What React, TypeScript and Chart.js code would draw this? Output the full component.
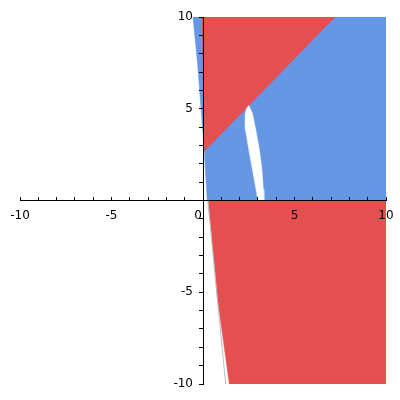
import React, { useEffect, useRef } from "react";
import { Chart, registerables } from "chart.js";

Chart.register(...registerables);

// Region outlines (data coordinates)
const blueRegion = [
  { x: -0.55, y: 10 },
  { x: -0.3, y: 7.5 },
  { x: 0.07, y: 2.7 },
  { x: 0.23, y: 0 },
  { x: 10, y: 0 },
  { x: 10, y: 10 },
  { x: -0.55, y: 10 },
];

const redTopRegion = [
  { x: -0.04, y: 10 },
  { x: 7.21, y: 10 },
  { x: 0.07, y: 2.69 },
  { x: -0.04, y: 10 },
];

const whiteHole = [
  { x: 2.5, y: 5.18 },
  { x: 2.7, y: 4.75 },
  { x: 2.88, y: 3.87 },
  { x: 3.08, y: 2.78 },
  { x: 3.22, y: 1.69 },
  { x: 3.3, y: 0.6 },
  { x: 3.33, y: 0.0 },
  { x: 3.0, y: 0.0 },
  { x: 2.9, y: 0.6 },
  { x: 2.7, y: 1.69 },
  { x: 2.5, y: 2.78 },
  { x: 2.32, y: 3.87 },
  { x: 2.3, y: 4.69 },
  { x: 2.38, y: 5.02 },
  { x: 2.5, y: 5.18 },
];

const redBottomRegion = [
  { x: 0.29, y: 0 },
  { x: 0.8, y: -5.4 },
  { x: 1.44, y: -10 },
  { x: 10, y: -10 },
  { x: 10, y: 0 },
  { x: 0.29, y: 0 },
];

const greyBoundary = [
  { x: 0.26, y: 0 },
  { x: 1.24, y: -10 },
];

const majorTickValues = [-10, -5, 5, 10];

const RED = "rgb(229,79,79)";
const BLUE = "rgb(101,151,228)";

export default function App() {
  const ref = useRef<HTMLCanvasElement | null>(null);

  useEffect(() => {
    if (!ref.current) return;
    const region = (data: any[], color: string, order: number) => ({
      data,
      order,
      showLine: true,
      fill: "shape" as any,
      backgroundColor: color,
      borderColor: color,
      borderWidth: 0.5,
      pointRadius: 0,
      tension: 0,
    });
    const chart = new Chart(ref.current, {
      type: "scatter",
      data: {
        datasets: [
          region(blueRegion, BLUE, 5),
          region(redTopRegion, RED, 4),
          region(whiteHole, "#ffffff", 3),
          region(redBottomRegion, RED, 2),
          {
            data: greyBoundary,
            order: 1,
            showLine: true,
            fill: false,
            borderColor: "rgb(185,190,200)",
            borderWidth: 1,
            pointRadius: 0,
          },
        ],
      },
      options: {
        animation: false,
        responsive: false,
        maintainAspectRatio: false,
        layout: { padding: { left: 20, right: 14, top: 17, bottom: 16 } },
        plugins: { legend: { display: false }, tooltip: { enabled: false } },
        scales: {
          x: {
            type: "linear",
            min: -10,
            max: 10,
            position: { y: 0 } as any,
            grid: {
              drawOnChartArea: false,
              drawTicks: true,
              tickLength: -4,
              color: "#000",
              z: 1,
            },
            border: { display: true, color: "#000", width: 1, z: 1 },
            ticks: {
              z: 1,
              stepSize: 1,
              autoSkip: false,
              maxRotation: 0,
              padding: 6,
              color: "#000",
              font: { family: "DejaVu Sans", size: 12, lineHeight: 2.17 },
              callback: (v: any) =>
                v === 0 ? "0  \u2009" : majorTickValues.includes(v) ? String(v) : "",
            },
          },
          y: {
            type: "linear",
            min: -10,
            max: 10,
            position: { x: 0 } as any,
            grid: {
              drawOnChartArea: false,
              drawTicks: true,
              tickLength: 4,
              color: "#000",
              z: 1,
            },
            border: { display: true, color: "#000", width: 1, z: 1 },
            ticks: {
              z: 1,
              stepSize: 1,
              autoSkip: false,
              padding: 6,
              color: "#000",
              font: { family: "DejaVu Sans", size: 12 },
              callback: (v: any) =>
                majorTickValues.includes(v) ? String(v) + "  \u2009" : "",
            },
          },
        },
      },
    });
    return () => chart.destroy();
  }, []);

  return (
    <div style={{ position: "absolute", left: 0, top: 0, width: 400, height: 400, background: "#fff" }}>
      <canvas ref={ref} width={400} height={400} style={{ width: 400, height: 400 }} />
    </div>
  );
}
